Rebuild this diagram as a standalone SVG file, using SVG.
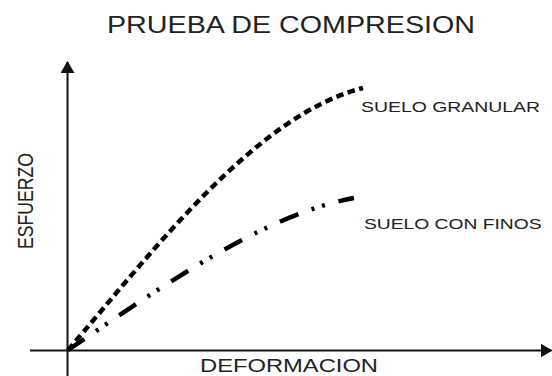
<svg xmlns="http://www.w3.org/2000/svg" width="552" height="376" viewBox="0 0 552 376">
  <style>
    .t { font-family: "Liberation Sans", Arial, sans-serif; fill: #222; }
    .axis { stroke: #111; stroke-width: 2; fill: none; }
    .curve { fill: none; stroke: #000; stroke-width: 4.5; }
  </style>
  <defs>
    <marker id="arr" markerUnits="userSpaceOnUse" markerWidth="12" markerHeight="14" viewBox="0 0 12 14" refX="11" refY="7" orient="auto">
      <path d="M0,0 L12,7 L0,14 Z" fill="#111"/>
    </marker>
  </defs>
  <rect width="552" height="376" fill="#fff"/>

  <g id="title">
    <text class="t" x="107" y="32.7" font-size="23.3" textLength="368" lengthAdjust="spacingAndGlyphs">PRUEBA DE COMPRESION</text>
  </g>

  <g id="axes">
    <line class="axis" x1="67.5" y1="376" x2="67.5" y2="62" marker-end="url(#arr)"/>
    <line class="axis" x1="30" y1="350.5" x2="551.5" y2="350.5" marker-end="url(#arr)"/>
  </g>

  <g id="axis-labels">
    <text class="t" font-size="17.6" transform="translate(32.5,249) scale(1.3,1) rotate(-90)" textLength="96" lengthAdjust="spacingAndGlyphs">ESFUERZO</text>
    <text class="t" x="200" y="372" font-size="18" textLength="178" lengthAdjust="spacingAndGlyphs">DEFORMACION</text>
  </g>

  <g id="connectors">
    <path id="suelo-granular-curve" class="curve" stroke-dasharray="7.5 4.5" d="M68,350 C150,255 255,115 363,88"/>
    <path id="suelo-finos-curve" class="curve" stroke-dasharray="20 14 3 8 3 14" d="M68,350 C150,295 260,215 354,198"/>
  </g>

  <g id="granular-label">
    <text class="t" x="361" y="111.7" font-size="15.4" textLength="179" lengthAdjust="spacingAndGlyphs">SUELO GRANULAR</text>
  </g>
  <g id="finos-label">
    <text class="t" x="364" y="229.3" font-size="15.4" textLength="177.6" lengthAdjust="spacingAndGlyphs">SUELO CON FINOS</text>
  </g>
</svg>
